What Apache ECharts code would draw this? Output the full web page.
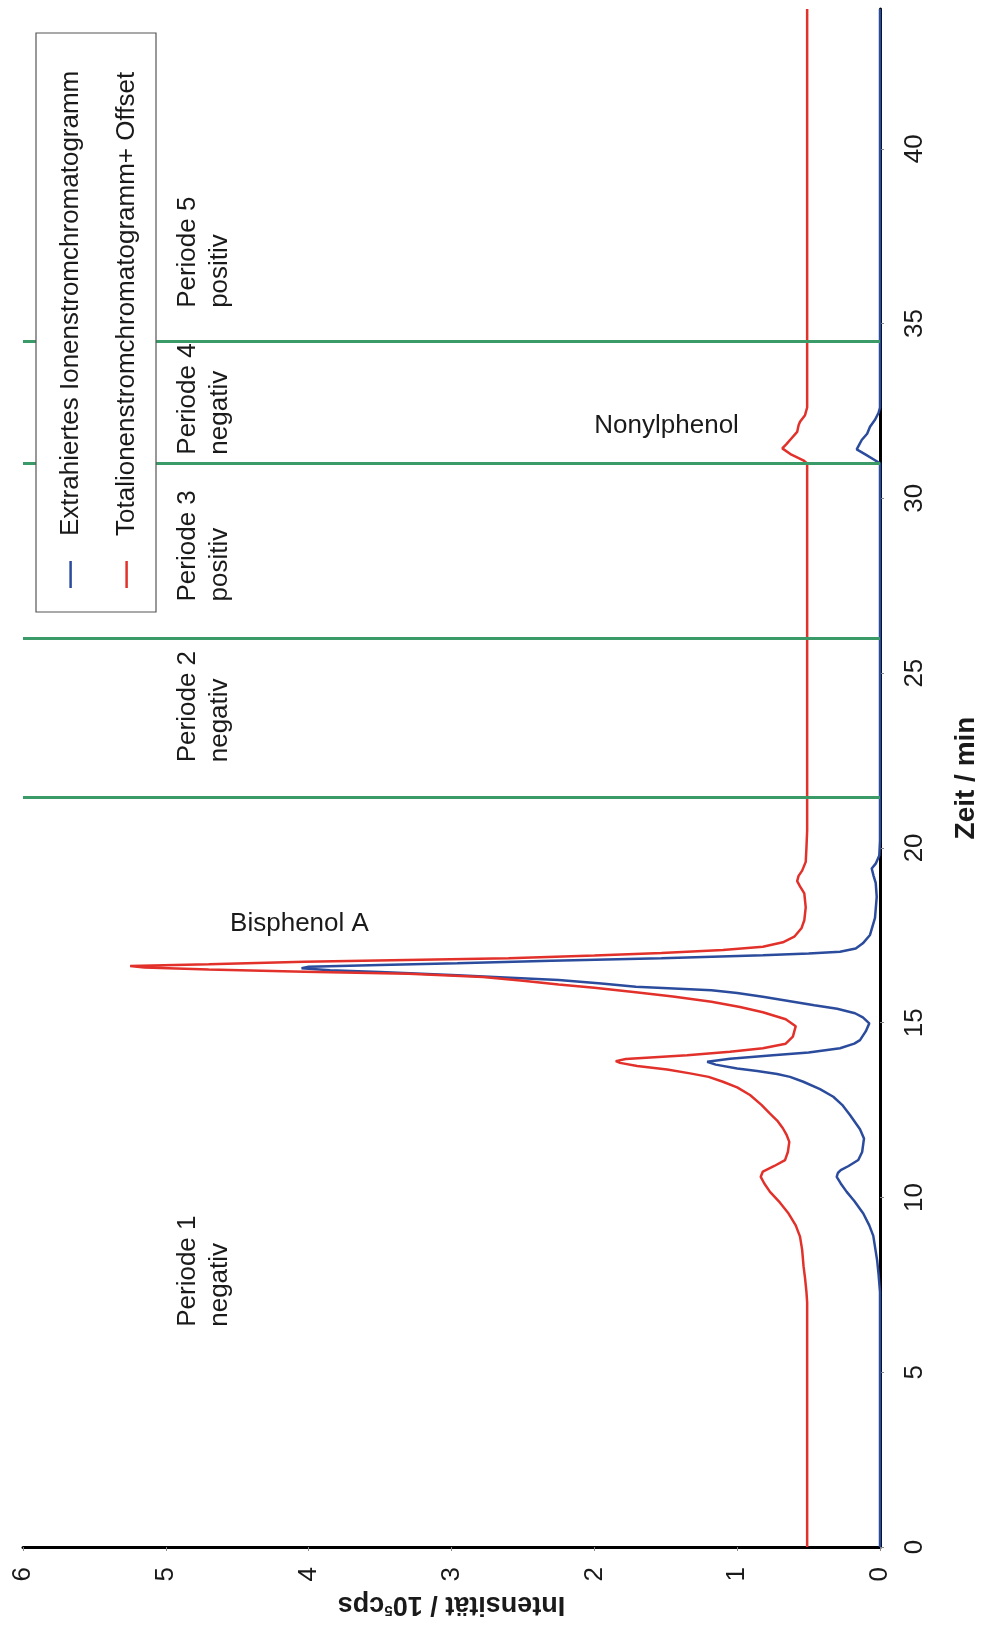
<!DOCTYPE html>
<html><head><meta charset="utf-8">
<script src="https://cdn.jsdelivr.net/npm/echarts@6/dist/echarts.min.js"></script>
<style>html,body{margin:0;padding:0;background:#fff}#c{width:981px;height:1628px}</style>
</head><body><div id="c"></div>
<script>
// ---- data (time in min, intensity in 10^5 cps) ----
const seriesNames = ['Extrahiertes Ionenstromchromatogramm', 'Totalionenstromchromatogramm+ Offset'];
const blueTime = [0,7.3,7.8,8.2,8.9,9.2,9.54,9.9,10.16,10.4,10.59,10.7,10.78,10.9,11.07,11.3,11.69,11.95,12.36,12.65,12.88,13.1,13.31,13.45,13.53,13.62,13.69,13.8,13.88,13.93,13.97,14.02,14.07,14.15,14.27,14.4,14.5,14.75,14.98,15.15,15.27,15.4,15.5,15.62,15.74,15.85,15.93,16.03,16.12,16.22,16.36,16.45,16.5,16.56,16.6,16.65,16.7,16.77,16.84,16.93,16.98,17.03,17.12,17.27,17.51,18.0,18.6,19.0,19.2,19.41,19.55,19.78,20.2,31.0,31.09,31.25,31.4,31.5,31.67,31.85,32.05,32.25,32.45,32.6,44];
const blueVal  = [0,0,0.01,0.02,0.047,0.075,0.117,0.18,0.233,0.275,0.303,0.295,0.275,0.22,0.152,0.125,0.112,0.14,0.21,0.265,0.327,0.42,0.537,0.63,0.72,0.86,1.0,1.15,1.21,1.2,1.05,0.9,0.75,0.5,0.28,0.18,0.14,0.1,0.075,0.12,0.175,0.3,0.46,0.64,0.82,1.0,1.18,1.71,1.95,2.25,2.96,3.5,3.85,4.05,4.0,3.5,2.96,2.3,1.53,0.82,0.5,0.28,0.17,0.12,0.07,0.035,0.023,0.03,0.045,0.058,0.03,0.005,0,0,0.035,0.1,0.163,0.15,0.128,0.09,0.07,0.035,0.01,0,0];
const redTime  = [0,7.0,7.3,7.7,8.02,8.5,8.88,9.2,9.54,9.85,10.16,10.4,10.59,10.74,10.9,11.07,11.3,11.59,11.8,11.98,12.2,12.4,12.65,12.93,13.15,13.31,13.45,13.55,13.66,13.76,13.85,13.9,13.96,14.02,14.07,14.17,14.27,14.4,14.6,14.9,15.1,15.3,15.45,15.6,15.75,15.87,16.0,16.09,16.2,16.31,16.4,16.46,16.52,16.58,16.62,16.67,16.74,16.84,16.92,16.99,17.08,17.17,17.3,17.46,17.7,17.93,18.3,18.7,18.9,19.05,19.2,19.35,19.6,20.0,20.5,31.0,31.09,31.25,31.43,31.55,31.67,31.9,32.09,32.19,32.38,32.6,44];
const redVal   = [0.51,0.51,0.515,0.525,0.535,0.545,0.56,0.59,0.64,0.7,0.77,0.81,0.835,0.82,0.74,0.665,0.645,0.635,0.655,0.68,0.72,0.77,0.83,0.91,1.0,1.1,1.2,1.33,1.49,1.7,1.82,1.85,1.78,1.55,1.35,1.05,0.82,0.66,0.61,0.59,0.66,0.82,0.98,1.18,1.45,1.71,2.0,2.25,2.5,2.78,3.3,4.03,4.7,5.15,5.25,4.7,4.03,2.6,2.0,1.53,1.1,0.82,0.68,0.6,0.55,0.53,0.52,0.53,0.56,0.58,0.57,0.545,0.52,0.515,0.51,0.51,0.537,0.62,0.684,0.655,0.63,0.58,0.57,0.56,0.525,0.51,0.51];
const periodBounds = [21.45, 26.0, 31.0, 34.5];
const periodTexts = ['Periode 1\nnegativ', 'Periode 2\nnegativ', 'Periode 3\npositiv', 'Periode 4\nnegativ', 'Periode 5\npositiv'];
const periodLabelTime = [6.3, 22.45, 27.05, 31.25, 35.45];
const periodLabelInt = 4.96;
const peakNames = ['Bisphenol A', 'Nonylphenol'];
const peakLabelPos = [[4.55, 17.82], [2.0, 32.07]]; // [intensity, time]

const FONT = "'Liberation Sans', Arial, Helvetica, sans-serif";
const BLUE = '#2b4b9c', RED = '#e2312b', GREEN = '#3a9b69', TXT = '#1a1a1a';
const zip = (t, v) => t.map((x, i) => [v[i], x]);

const chart = echarts.init(document.getElementById('c'));
chart.setOption({
  animation: false,
  grid: { left: 23, right: 101, top: 9, bottom: 81, containLabel: false, outerBoundsMode: 'none' },
  xAxis: {
    type: 'value', min: 0, max: 6, interval: 1, inverse: true, position: 'bottom',
    axisLine: { onZero: false, lineStyle: { color: '#000', width: 3 } },
    axisTick: { show: true, length: 4, lineStyle: { color: '#888' } },
    splitLine: { show: false },
    axisLabel: { rotate: 90, fontSize: 26, color: TXT, fontFamily: FONT, margin: 20 },
    name: '{b|Intensität / 10}{s|5}{b|cps}', nameLocation: 'middle', nameRotate: 180, nameGap: 44,
    nameTextStyle: { rich: {
      b: { fontSize: 27, fontWeight: 'bold', fontFamily: FONT, color: TXT },
      s: { fontSize: 15, fontWeight: 'bold', fontFamily: FONT, color: TXT, verticalAlign: 'top' }
    } }
  },
  yAxis: {
    type: 'value', min: 0, max: 44, interval: 5, position: 'right',
    axisLine: { onZero: false, lineStyle: { color: '#000', width: 3 } },
    axisTick: { show: true, length: 4, lineStyle: { color: '#888' } },
    splitLine: { show: false },
    axisLabel: { rotate: 90, fontSize: 26, color: TXT, fontFamily: FONT, margin: 22, showMaxLabel: false },
    name: 'Zeit / min', nameLocation: 'middle', nameRotate: 90, nameGap: 72,
    nameTextStyle: { fontSize: 28, fontWeight: 'bold', fontFamily: FONT, color: TXT }
  },
  series: [
    { type: 'line', data: [], z: 1, silent: true,
      markLine: { silent: true, symbol: 'none', label: { show: false },
        lineStyle: { color: GREEN, width: 3, type: 'solid' },
        data: periodBounds.map(v => ({ yAxis: v })) } },
    { name: seriesNames[0], type: 'line', data: zip(blueTime, blueVal), showSymbol: false, z: 3,
      lineStyle: { color: BLUE, width: 2.5 }, itemStyle: { color: BLUE } },
    { name: seriesNames[1], type: 'line', data: zip(redTime, redVal), showSymbol: false, z: 4,
      lineStyle: { color: RED, width: 2.5 }, itemStyle: { color: RED } }
  ]
});

const px = (i, t) => chart.convertToPixel({ gridIndex: 0 }, [i, t]);
const g = [];
periodTexts.forEach((s, k) => {
  const p = px(periodLabelInt, periodLabelTime[k]);
  g.push({ type: 'text', x: p[0], y: p[1], rotation: Math.PI / 2, z: 50,
    style: { text: s, fontSize: 26, lineHeight: 32, fontFamily: FONT, fill: TXT, align: 'left', verticalAlign: 'top' } });
});
peakNames.forEach((s, k) => {
  const p = px(peakLabelPos[k][0], peakLabelPos[k][1]);
  g.push({ type: 'text', x: p[0], y: p[1], z: 50,
    style: { text: s, fontSize: 26, fontFamily: FONT, fill: TXT, align: 'left', verticalAlign: 'middle' } });
});
// legend (rotated, as in the reference)
g.push({ type: 'rect', z: 60, shape: { x: 36, y: 33, width: 120, height: 579 },
  style: { fill: '#fff', stroke: '#555', lineWidth: 1.2 } });
[[70.6, BLUE], [126.6, RED]].forEach((d, k) => {
  g.push({ type: 'line', z: 61, shape: { x1: d[0], y1: 561, x2: d[0], y2: 588 }, style: { stroke: d[1], lineWidth: 2.5 } });
  g.push({ type: 'text', z: 61, x: d[0], y: 536, rotation: Math.PI / 2,
    style: { text: seriesNames[k], fontSize: 26, fontFamily: FONT, fill: TXT, align: 'left', verticalAlign: 'middle' } });
});
chart.setOption({ graphic: g });
</script>
</body></html>
